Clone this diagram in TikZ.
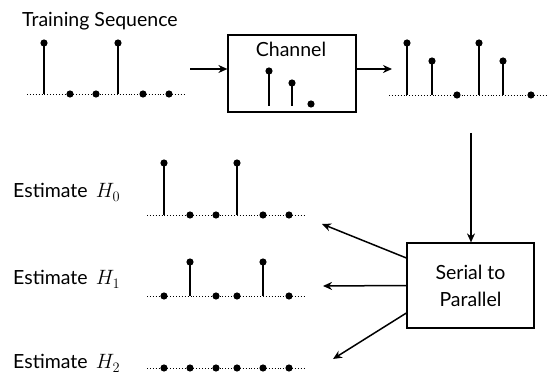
\documentclass[tikz,border=0pt]{standalone}
\usepackage{fontspec}
\setmainfont{Lato}
\usetikzlibrary{arrows.meta}

% one stem plot: baseline y, left end, right end, list of x/top pairs
\newcommand\stemrow[4]{%
  \draw[axisline] (#2,#1) -- (#3,#1);
  \foreach \sx/\sy in {#4}{%
    \draw[stemline] (\sx,#1) -- (\sx,\sy);
    \fill (\sx,\sy) circle (3.6);
  }%
}

\begin{document}
\begin{tikzpicture}[x=1pt,y=-1pt,
  lbl/.style={font=\fontsize{19.5}{27}\selectfont, inner sep=0pt},
  blockbox/.style={draw, line width=1.2pt, inner sep=0pt},
  arr/.style={line width=1.5pt, -{Stealth[length=9pt,width=8pt]}},
  axisline/.style={line width=0.9pt, dotted},
  stemline/.style={line width=1.6pt}]
\useasboundingbox (0,0) rectangle (550,374);

% training sequence
\node[lbl, anchor=base west] (ts) at (22,27) {Training Sequence};
\stemrow{94}{27}{185}{44/43,70/94,96/94,118/43,143/94,169/94}

% channel block with its impulse response
\node[blockbox, minimum width=128pt, minimum height=77pt] (ch) at (292,73.5) {};
\node[lbl, anchor=base] (chl) at (291,57) {Channel};
\draw[stemline] (269,106) -- (269,71);
\fill (269,71) circle (3.6);
\draw[stemline] (292,106) -- (292,83);
\fill (292,83) circle (3.6);
\fill (311,104) circle (3.6);

\coordinate (tsend) at (190,69);
\coordinate (rxin) at (392,69);
\draw[arr] (tsend) -- (tsend -| ch.west);
\draw[arr] (ch.east |- rxin) -- (rxin);

% received sequence
\stemrow{95}{389}{547}{407/43,432/61,457/95,479/43,503/61,531/95}

% serial to parallel block
\node[blockbox, minimum width=127pt, minimum height=85pt, lbl, align=center] (sp) at (470.5,285.5) {Serial to\\Parallel};
\coordinate (rxout) at (471,133);
\draw[arr] (rxout) -- (rxout |- sp.north);

\coordinate (e0) at (322,224);
\coordinate (e1) at (323,286);
\coordinate (e2) at (333,359);
\draw[arr] ([yshift=27.5pt]sp.west) -- (e0);
\draw[arr] (sp.west) -- (e1);
\draw[arr] ([yshift=-27.5pt]sp.west) -- (e2);

% estimates
\node[lbl, anchor=base west] (h0) at (13,198) {Estimate \,$H_0$};
\stemrow{215}{147}{305}{164/163,190/215,216/215,237/163,263/215,289/215}

\node[lbl, anchor=base west] (h1) at (13,285) {Estimate \,$H_1$};
\stemrow{296}{147}{305}{164/296,190/262,216/296,237/296,263/262,289/296}

\node[lbl, anchor=base west] (h2) at (13,369) {Estimate \,$H_2$};
\stemrow{368}{147}{305}{164/368,190/368,216/368,237/368,263/368,289/368}
\end{tikzpicture}
\end{document}
